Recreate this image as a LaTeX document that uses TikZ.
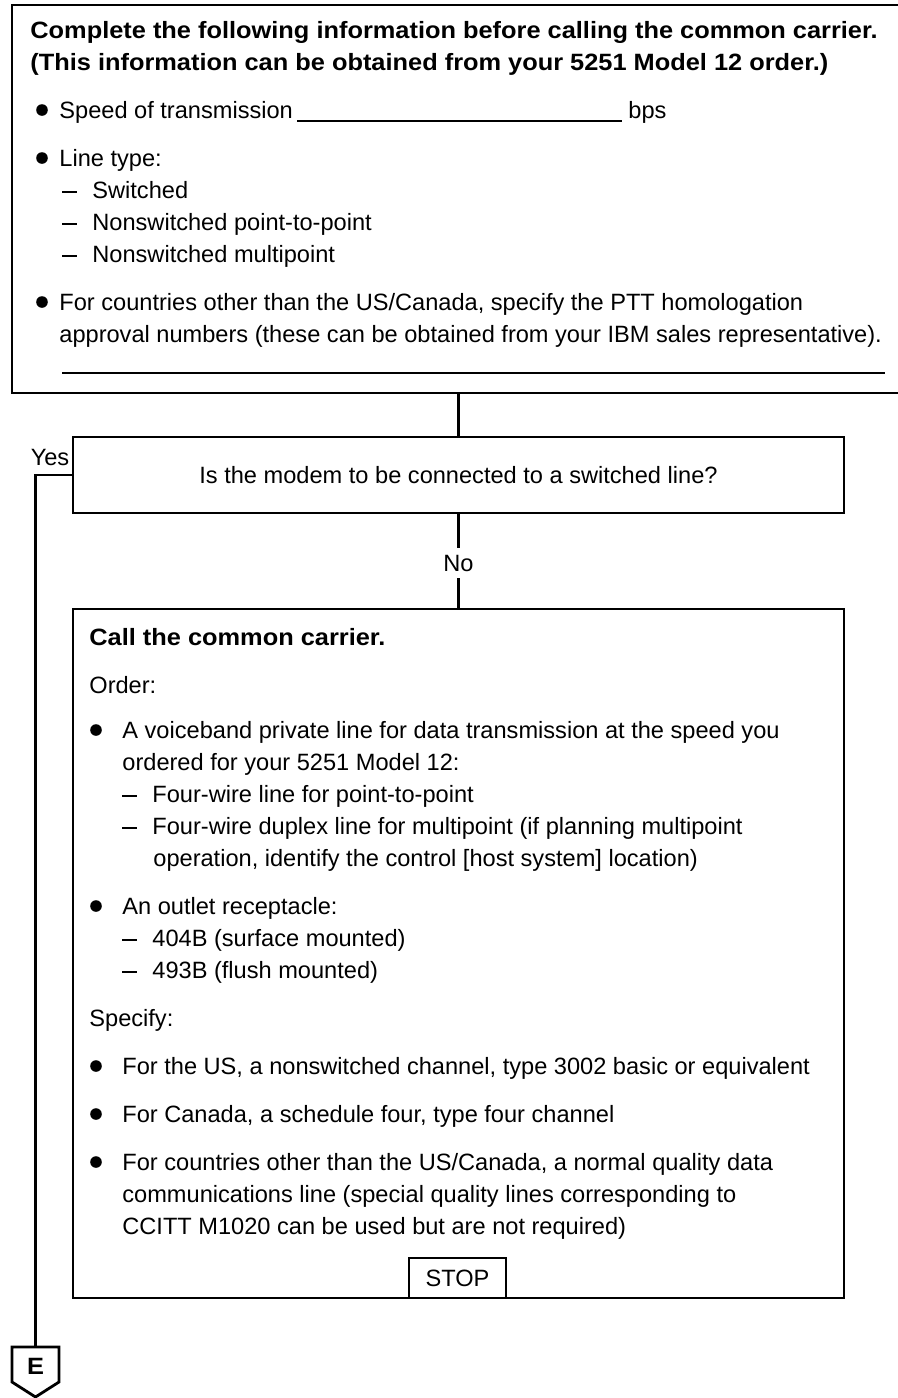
\documentclass[tikz,border=0pt]{standalone}
\usepackage{fontspec}
\setmainfont{Liberation Sans}
\newfontfamily\headfont{Liberation Sans}[FakeStretch=1.075]
\newcommand{\dashmark}{\makebox[15pt][l]{\rule[2.7pt]{7.5pt}{1pt}}}

\begin{document}
\begin{tikzpicture}[x=0.5pt, y=-0.5pt,
    every node/.style={font=\fontsize{11.8}{16}\selectfont},
    head/.style={font=\fontsize{11.8}{16}\selectfont\headfont\bfseries},
    box/.style={rectangle, draw, line width=1.4pt, inner sep=0pt},
    txt/.style={anchor=base west, inner sep=0pt},
    dot/.style={circle, fill, inner sep=0pt, minimum size=5.8pt},
    wire/.style={line width=1.4pt}
  ]
  \useasboundingbox (0,0) rectangle (898,1398);
  \node[box, minimum width=449pt, minimum height=194pt] (info) at (461,199) {};
  \node[box, minimum width=385.5pt, minimum height=38pt] (q) at (458.5,475)
  {Is the modem to be connected to a switched line?};
  \node[box, minimum width=385.5pt, minimum height=344.5pt] (call) at (458.5,953.5) {};
  \node[box, minimum width=48.5pt, minimum height=20pt] (stop) at (457.5,1278) {STOP};

  \node[txt, head] (i1) at (30,38)
  {Complete the following information before calling the common carrier.};
  \node[txt, head] (i2) at (30,70)
  {(This information can be obtained from your 5251 Model 12 order.)};
  \node[dot] (b1) at (42,110) {};
  \node[txt] (i3) at (59,118) {Speed of transmission};
  \node[txt] (bps) at (628,118) {bps};
  \draw[line width=1.2pt] (297,121) -- (622,121);
  \node[dot] (b2) at (42,158) {};
  \node[txt] (i4) at (59,166) {Line type:};
  \node[txt] (i5) at (62,198) {\dashmark Switched};
  \node[txt] (i6) at (62,230) {\dashmark Nonswitched point-to-point};
  \node[txt] (i7) at (62,262) {\dashmark Nonswitched multipoint};
  \node[dot] (b3) at (42,302) {};
  \node[txt] (i8) at (59,310)
  {For countries other than the US/Canada, specify the PTT homologation};
  \node[txt] (i9) at (59,342)
  {approval numbers (these can be obtained from your IBM sales representative).};
  \draw[line width=1.2pt] (62,373) -- (885,373);

  \node[txt, head] (c1) at (89,645) {Call the common carrier.};
  \node[txt] (c2) at (89,693) {Order:};
  \node[dot] (d1) at (96,730) {};
  \node[txt] (c3) at (122,738)
  {A voiceband private line for data transmission at the speed you};
  \node[txt] (c4) at (122,770) {ordered for your 5251 Model 12:};
  \node[txt] (c5) at (122,802) {\dashmark Four-wire line for point-to-point};
  \node[txt] (c6) at (122,834)
  {\dashmark Four-wire duplex line for multipoint (if planning multipoint};
  \node[txt] (c7) at (153,866)
  {operation, identify the control [host system] location)};
  \node[dot] (d2) at (96,906) {};
  \node[txt] (c8) at (122,914) {An outlet receptacle:};
  \node[txt] (c9) at (122,946) {\dashmark 404B (surface mounted)};
  \node[txt] (c10) at (122,978) {\dashmark 493B (flush mounted)};
  \node[txt] (c11) at (89,1026) {Specify:};
  \node[dot] (d3) at (96,1066) {};
  \node[txt] (c12) at (122,1074)
  {For the US, a nonswitched channel, type 3002 basic or equivalent};
  \node[dot] (d4) at (96,1114) {};
  \node[txt] (c13) at (122,1122) {For Canada, a schedule four, type four channel};
  \node[dot] (d5) at (96,1162) {};
  \node[txt] (c14) at (122,1170)
  {For countries other than the US/Canada, a normal quality data};
  \node[txt] (c15) at (122,1202)
  {communications line (special quality lines corresponding to};
  \node[txt] (c16) at (122,1234)
  {CCITT M1020 can be used but are not required)};

  \node (no) at (458.5,563) {No};
  \node (yes) at (50,457) {Yes};
  \coordinate (etop) at (35.5,1347);
  \node[head] (e) at (35.5,1366) {E};

  \draw[wire] (q.north) -- (q.north |- info.south);
  \draw[wire] (q.south) -- (no.north);
  \draw[wire] (no.south) -- (call.north);
  \draw[wire] (q.west) -| (etop);
  \draw[wire] (12,1347) -- (59,1347) -- (59,1382) -- (35.5,1397)
    -- (12,1382) -- cycle;
\end{tikzpicture}
\end{document}
